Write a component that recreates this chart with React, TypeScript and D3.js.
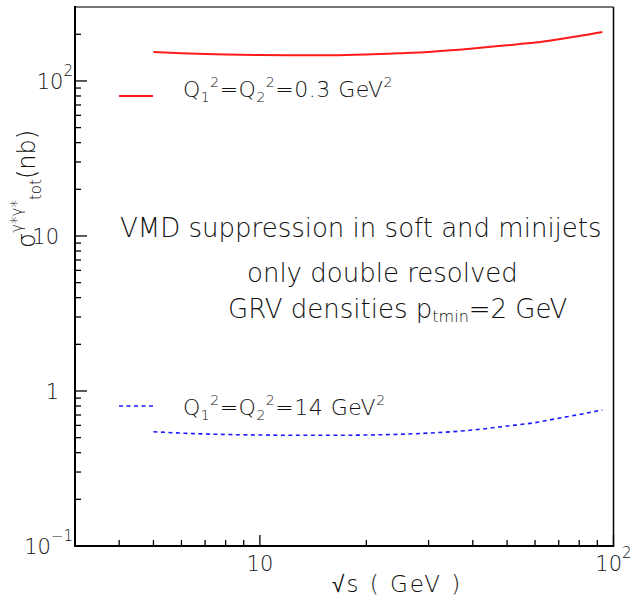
import React from "react";
import * as d3 from "d3";

const W = 639;
const H = 603;

const sqrtS = [5, 6, 7, 8, 10, 13, 16, 20, 25, 30, 40, 50, 60, 70, 80, 93];
const sigmaLowQ = [154, 151, 149, 148, 147, 146.5, 146.5, 148, 151, 154, 162, 170, 177, 186, 195, 207];
const sigmaHighQ = [0.546, 0.535, 0.528, 0.524, 0.52, 0.518, 0.518, 0.52, 0.526, 0.535, 0.56, 0.594, 0.625, 0.667, 0.705, 0.754];

const xMajorTicks = [10, 100];
const xMinorTicks = [4, 5, 6, 7, 8, 9, 20, 30, 40, 50, 60, 70, 80, 90];
const yMajorTicks = [0.1, 1, 10, 100];
const yMinorTicks = [0.2, 0.3, 0.4, 0.5, 0.6, 0.7, 0.8, 0.9, 2, 3, 4, 5, 6, 7, 8, 9, 20, 30, 40, 50, 60, 70, 80, 90, 200];
const yTickLabels = [
  { v: 100, base: "10", exp: "2" },
  { v: 10, base: "10", exp: "" },
  { v: 1, base: "1", exp: "" },
  { v: 0.1, base: "10", exp: "\u22121" },
];
const xTickLabels = [
  { v: 10, base: "10", exp: "" },
  { v: 100, base: "10", exp: "2" },
];

const FONT = "'DejaVu Sans', 'Liberation Sans', Arial, sans-serif";
const FW = 200;
const TXT = "#111";

export default function App() {
  const left = 75, right = 613.5, top = 7, bottom = 546;
  const x = d3.scaleLog().domain([3, 100]).range([left, right]);
  const y = d3.scaleLog().domain([0.1, 300]).range([bottom, top]);

  const line = d3
    .line<number>()
    .x((_, i) => x(sqrtS[i]))
    .y((d) => y(d))
    .curve(d3.curveMonotoneX);

  return (
    <svg width={W} height={H} style={{ position: "absolute", left: 0, top: 0, background: "#fff" }} fontFamily={FONT} fontWeight={FW}>
      <rect x={0} y={0} width={W} height={H} fill="#fff" />
      {/* frame */}
      <line x1={left} x2={right} y1={top} y2={top} stroke="#777" strokeWidth={2} />
      <line x1={right} x2={right} y1={top} y2={bottom} stroke="#000" strokeWidth={1.5} />
      <line x1={left} x2={left} y1={top - 1} y2={bottom + 1} stroke="#000" strokeWidth={2} />
      <line x1={left - 1} x2={right + 0.75} y1={bottom} y2={bottom} stroke="#000" strokeWidth={2} />

      {/* y ticks */}
      {yMajorTicks.map((t) => (
        <line key={"ym" + t} x1={left} x2={left + 12} y1={y(t)} y2={y(t)} stroke="#000" strokeWidth={1.3} />
      ))}
      {yMinorTicks.map((t) => (
        <line key={"yn" + t} x1={left} x2={left + 6} y1={y(t)} y2={y(t)} stroke="#000" strokeWidth={1.3} />
      ))}
      {/* x ticks */}
      {xMajorTicks.map((t) => (
        <line key={"xm" + t} x1={x(t)} x2={x(t)} y1={bottom} y2={bottom - 11} stroke="#000" strokeWidth={1.3} />
      ))}
      {xMinorTicks.map((t) => (
        <line key={"xn" + t} x1={x(t)} x2={x(t)} y1={bottom} y2={bottom - 6} stroke="#000" strokeWidth={1.3} />
      ))}

      {/* y tick labels */}
      {yTickLabels.map((l) =>
        l.exp ? (
          <text key={"yl" + l.v} x={73} y={y(l.v) + 8} textAnchor="end" fontSize={21} fill={TXT}>
            {l.base}
            <tspan fontSize={15} dy={-13}>{l.exp}</tspan>
          </text>
        ) : (
          <text key={"yl" + l.v} x={59} y={y(l.v) + 8} textAnchor="end" fontSize={21} fill={TXT}>
            {l.base}
          </text>
        )
      )}
      {/* x tick labels */}
      {xTickLabels.map((l) => (
        <text key={"xl" + l.v} x={x(l.v)} y={571} textAnchor="middle" fontSize={21} fill={TXT}>
          {l.base}
          {l.exp ? <tspan fontSize={15} dy={-13}>{l.exp}</tspan> : null}
        </text>
      ))}

      {/* axis titles */}
      <text x={397} y={592} textAnchor="middle" fontSize={23} fill={TXT} letterSpacing={2}>
        {"\u221As ( GeV )"}
      </text>
      <text transform="translate(35,248) rotate(-90)" fontSize={24} fill={TXT}>
        {"\u03C3"}
        <tspan fontSize={15} dy={-13}>{"\u03B3*\u03B3*"}</tspan>
        <tspan fontSize={15} dy={19}>tot</tspan>
        <tspan fontSize={24} dy={-6}>(nb)</tspan>
      </text>

      {/* curves */}
      <path d={line(sigmaLowQ) || ""} fill="none" stroke="#ff1a1a" strokeWidth={2} />
      <path d={line(sigmaHighQ) || ""} fill="none" stroke="#1a1aff" strokeWidth={1.6} strokeDasharray="4 3.5" />

      {/* legend */}
      <line x1={119} x2={153} y1={96} y2={96} stroke="#ff1a1a" strokeWidth={2} />
      <text x={183} y={97} fontSize={22} fill={TXT} letterSpacing={0.5}>
        Q<tspan fontSize={14} dy={5}>1</tspan>
        <tspan fontSize={14} dy={-15}>2</tspan>
        <tspan fontSize={22} dy={10}>=Q</tspan>
        <tspan fontSize={14} dy={5}>2</tspan>
        <tspan fontSize={14} dy={-15}>2</tspan>
        <tspan fontSize={22} dy={10}>=0.3 GeV</tspan>
        <tspan fontSize={14} dy={-10}>2</tspan>
      </text>
      <line x1={119} x2={153} y1={406} y2={406} stroke="#1a1aff" strokeWidth={1.6} strokeDasharray="4 3.5" />
      <text x={183} y={415} fontSize={22} fill={TXT} letterSpacing={0.5}>
        Q<tspan fontSize={14} dy={5}>1</tspan>
        <tspan fontSize={14} dy={-15}>2</tspan>
        <tspan fontSize={22} dy={10}>=Q</tspan>
        <tspan fontSize={14} dy={5}>2</tspan>
        <tspan fontSize={14} dy={-15}>2</tspan>
        <tspan fontSize={22} dy={10}>=14 GeV</tspan>
        <tspan fontSize={14} dy={-10}>2</tspan>
      </text>

      {/* annotations */}
      <text x={120} y={237} fontSize={26} fill={TXT}>
        VMD suppression in soft and minijets
      </text>
      <text x={247} y={282} fontSize={26} fill={TXT}>
        only double resolved
      </text>
      <text x={228} y={318} fontSize={26} fill={TXT}>
        GRV densities p<tspan fontSize={16} dy={4}>tmin</tspan>
        <tspan fontSize={26} dy={-4}>=2 GeV</tspan>
      </text>
    </svg>
  );
}
